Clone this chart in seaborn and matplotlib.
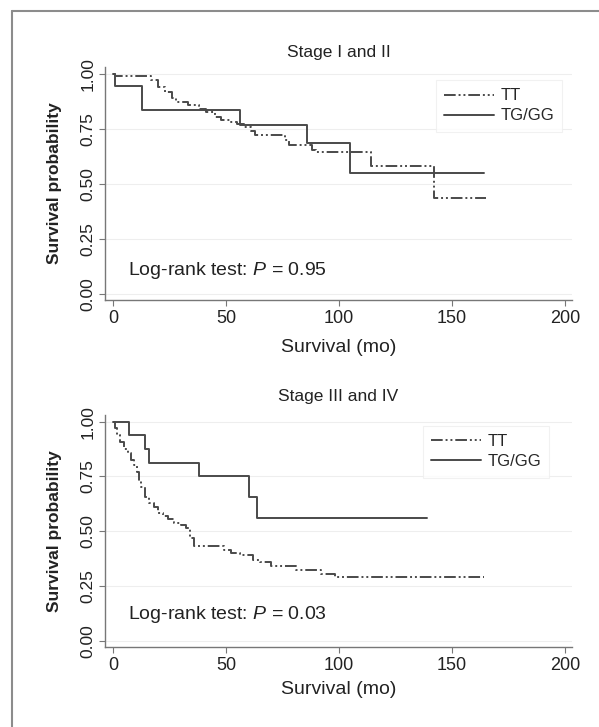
import numpy as np
import pandas as pd
import matplotlib
matplotlib.use('Agg')
import matplotlib.pyplot as plt
from matplotlib.lines import Line2D
import seaborn as sns

# Stage I and II
tt_early_time = [0, 1, 17, 20, 23, 26, 28, 33, 38, 41, 45, 48, 52, 55, 58, 61, 63, 76, 78, 88, 90, 114, 142, 165]
tt_early_surv = [1.0, 0.988, 0.973, 0.94, 0.915, 0.89, 0.872, 0.856, 0.84, 0.825, 0.805, 0.79, 0.78, 0.77,
                 0.76, 0.74, 0.722, 0.70, 0.675, 0.655, 0.645, 0.583, 0.435, 0.435]
tg_early_time = [0, 1, 13, 56, 86, 105, 164]
tg_early_surv = [1.0, 0.944, 0.833, 0.765, 0.686, 0.55, 0.55]

# Stage III and IV
tt_late_time = [0, 1, 2, 3, 5, 6.5, 8, 9.5, 10.5, 11.5, 12.5, 14, 16, 18, 20, 22, 24.5, 27, 30, 32.5,
                34, 36, 49, 52, 56, 62, 65, 70, 81, 92, 98, 164]
tt_late_surv = [1.0, 0.97, 0.94, 0.905, 0.875, 0.855, 0.825, 0.80, 0.77, 0.73, 0.70, 0.655, 0.63, 0.61,
                0.585, 0.57, 0.555, 0.54, 0.53, 0.515, 0.47, 0.435, 0.415, 0.40, 0.39, 0.37, 0.36, 0.34,
                0.325, 0.305, 0.29, 0.29]
tg_late_time = [0, 7, 14, 16, 38, 60, 63.5, 139]
tg_late_surv = [1.0, 0.9375, 0.875, 0.8125, 0.75, 0.656, 0.5625, 0.5625]

groups = ['TT', 'TG/GG']
titles = ['Stage I and II', 'Stage III and IV']
pvals = ['0.95', '0.03']
yticks = [0, 0.25, 0.5, 0.75, 1.0]
xticks = [0, 50, 100, 150, 200]

sns.set_style('white')
plt.rcParams['font.family'] = ['Liberation Sans', 'DejaVu Sans']
plt.rcParams['mathtext.fontset'] = 'custom'
plt.rcParams['mathtext.rm'] = 'Liberation Sans'
plt.rcParams['mathtext.it'] = 'Liberation Sans:italic'

def make_df(tt_t, tt_s, tg_t, tg_s):
    d1 = pd.DataFrame({'time': tt_t, 'surv': tt_s, 'group': 'TT'})
    d2 = pd.DataFrame({'time': tg_t, 'surv': tg_s, 'group': 'TG/GG'})
    return pd.concat([d1, d2], ignore_index=True)

dfs = [make_df(tt_early_time, tt_early_surv, tg_early_time, tg_early_surv),
       make_df(tt_late_time, tt_late_surv, tg_late_time, tg_late_surv)]

fig = plt.figure(figsize=(5.99, 7.27), dpi=100)
# axes boxes: left, bottom, width, height
boxes = [[105/599, 1-300/727, 467/599, 233/727],
         [105/599, 1-647/727, 467/599, 232/727]]
title_y = [1 + 15/233, 1 + 18/232]
xlabel_y = [-48/233, -43/232]
text_y = [0.105, 0.12]
leg_anchor = [(0.709, 0.944), (0.681, 0.953)]

line_col = '#4a4a4a'
dash_tt = (6, 1.5, 1, 1.5, 1, 1.5)

for i in range(2):
    ax = fig.add_axes(boxes[i])
    sns.lineplot(data=dfs[i], x='time', y='surv', style='group', style_order=groups,
                 dashes={'TT': dash_tt, 'TG/GG': ''}, color=line_col, linewidth=1.4,
                 drawstyle='steps-post', estimator=None, sort=False, legend=False, ax=ax)
    ax.set_xlim(-3.5, 203)
    ax.set_ylim(-0.027, 1.03)
    ax.set_xticks(xticks)
    ax.set_yticks(yticks)
    ax.set_yticklabels(['0.00', '0.25', '0.50', '0.75', '1.00'], rotation=90, va='center')
    ax.tick_params(axis='x', bottom=True, labelsize=13, length=4, width=0.8, color='#777777',
                   labelcolor='#222222', pad=3)
    ax.tick_params(axis='y', left=True, labelsize=12.5, length=4, width=0.8, color='#777777',
                   labelcolor='#222222', pad=3)
    for yv in yticks:
        ax.axhline(yv, color='#eeeeee', lw=0.8, zorder=0)
    for s in ['top', 'right']:
        ax.spines[s].set_visible(False)
    for s in ['left', 'bottom']:
        ax.spines[s].set_color('#777777')
        ax.spines[s].set_linewidth(1.0)
    ax.set_xlabel('Survival (mo)', fontsize=14, color='#222222')
    ax.xaxis.set_label_coords(0.5, xlabel_y[i])
    ax.xaxis.label.set_va('center')
    ax.set_ylabel('Survival probability', fontsize=12.5, fontweight='bold', color='#222222')
    ax.yaxis.set_label_coords(-50/467, 0.5)
    ax.yaxis.label.set_va('center')
    ax.text(0.5, title_y[i], titles[i], transform=ax.transAxes, ha='center', va='center',
            fontsize=12.5, color='#222222')
    ax.text(6.6, text_y[i], 'Log-rank test: $P$ = ' + pvals[i], ha='left', va='center',
            fontsize=14, color='#222222')
    handles = [Line2D([], [], color=line_col, lw=1.4, dashes=dash_tt),
               Line2D([], [], color=line_col, lw=1.4)]
    leg = ax.legend(handles, groups, loc='upper left', bbox_to_anchor=leg_anchor[i],
                    fontsize=12, frameon=True, fancybox=False, handlelength=3.0,
                    handletextpad=0.35, labelspacing=0.3, borderpad=0.5, borderaxespad=0)
    leg.get_frame().set_edgecolor('#eeeeee')
    leg.get_frame().set_linewidth(0.8)

# outer frame (only top and left edges visible)
fig.add_artist(Line2D([12/599, 12/599], [0, 1-11/727], transform=fig.transFigure,
                      color='#8c8c8c', lw=1.5))
fig.add_artist(Line2D([12/599, 1], [1-11/727, 1-11/727], transform=fig.transFigure,
                      color='#8c8c8c', lw=1.5))

fig.savefig('out.png', dpi=100)
